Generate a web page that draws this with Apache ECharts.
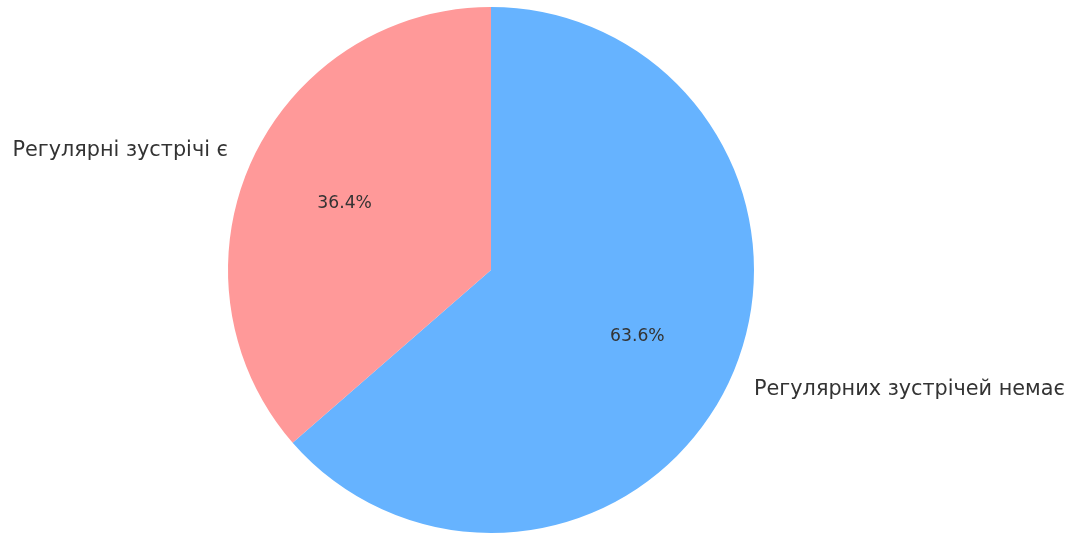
<!DOCTYPE html>
<html>
<head>
<meta charset="utf-8">
<script src="https://cdn.jsdelivr.net/npm/echarts@6/dist/echarts.min.js"></script>
<style>
  html, body { margin: 0; padding: 0; background: #ffffff; }
  #chart { width: 1076px; height: 533px; }
</style>
</head>
<body>
<div id="chart"></div>
<script>
// Share of respondents by whether regular meetings take place
const categories = ['Регулярних зустрічей немає', 'Регулярні зустрічі є'];
const shares = [63.6, 36.4];
const colors = ['#66b3ff', '#ff9999'];

const CX = 491, CY = 270, R = 263;
const FONT = '"DejaVu Sans", sans-serif';

const sliceData = categories.map((name, i) => ({
  name: name,
  value: shares[i],
  itemStyle: { color: colors[i] }
}));

const chart = echarts.init(document.getElementById('chart'), null, { renderer: 'canvas' });
chart.setOption({
  backgroundColor: '#ffffff',
  animation: false,
  series: [
    {
      // the pie itself with category names outside
      type: 'pie',
      center: [CX, CY],
      radius: [0, R],
      startAngle: 90,
      clockwise: true,
      avoidLabelOverlap: false,
      silent: true,
      data: sliceData,
      label: {
        show: true,
        position: 'outside',
        formatter: '{b}',
        fontFamily: FONT,
        fontSize: 20.8,
        color: '#333333',
        distanceToLabelLine: 0,
        padding: [2, 0, 0, 0]
      },
      labelLine: { show: false, length: 26, length2: 0 },
      emphasis: { disabled: true }
    },
    {
      // transparent ring whose inside labels sit at 0.6 of the pie radius
      type: 'pie',
      center: [CX, CY],
      radius: [0, R * 1.2],
      startAngle: 90,
      clockwise: true,
      silent: true,
      data: categories.map((name, i) => ({ name: name, value: shares[i] })),
      itemStyle: { color: 'rgba(0,0,0,0)' },
      label: {
        show: true,
        position: 'inside',
        formatter: (p) => shares[p.dataIndex].toFixed(1) + '%',
        fontFamily: FONT,
        fontSize: 17.2,
        color: '#333333',
        padding: [2, 0, 0, 0]
      },
      labelLine: { show: false },
      emphasis: { disabled: true }
    }
  ]
});
</script>
</body>
</html>
